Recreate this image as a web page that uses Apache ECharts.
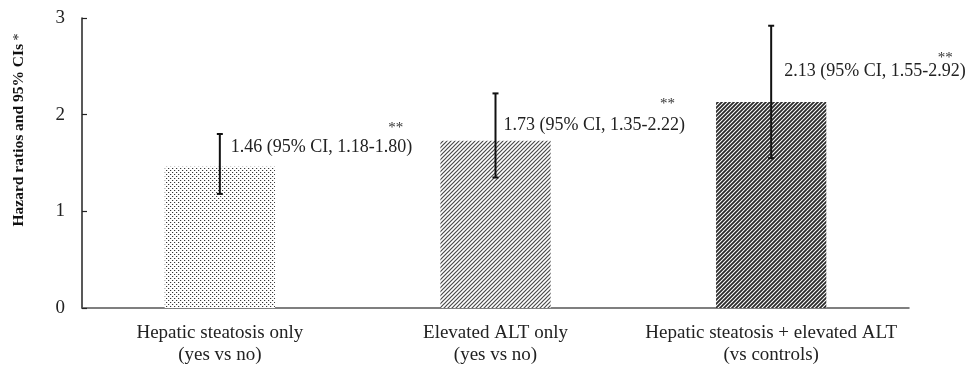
<!DOCTYPE html>
<html>
<head>
<meta charset="utf-8">
<script src="https://cdn.jsdelivr.net/npm/echarts@6/dist/echarts.min.js"></script>
<style>html,body{margin:0;padding:0;background:#fff}#c{width:972px;height:369px}</style>
</head>
<body>
<div id="c"></div>
<script>
// ---- data ----
var categories = ['Hepatic steatosis only\n(yes vs no)', 'Elevated ALT only\n(yes vs no)', 'Hepatic steatosis + elevated ALT\n(vs controls)'];
var hazardRatios = [1.46, 1.73, 2.13];
var ciLower = [1.18, 1.35, 1.55];
var ciUpper = [1.80, 2.22, 2.92];
var significance = ['**', '**', '**'];
var yTicks = [0, 1, 2, 3];
var yAxisTitle = 'Hazard ratios and 95% CIs';
var yAxisNote = '*';

// ---- styles (pixel offsets for annotations) ----
var labelDx = [11, 8, 13];
var labelDy = [-20, -16, -31];
var starDx = [165, 164, 161];
var starDy = [-19, -21, -13];

function makePattern(kind) {
  var c = document.createElement('canvas');
  var s = 4;
  c.width = s; c.height = s;
  var g = c.getContext('2d');
  g.fillStyle = '#fff';
  g.fillRect(0, 0, s, s);
  if (kind === 'dots') {
    g.fillStyle = '#383838';
    g.fillRect(0, 0, 1, 1);
    g.fillRect(2, 2, 1, 1);
    g.fillStyle = '#d8d8d8';
    g.fillRect(1, 0, 1, 1);
    g.fillRect(3, 2, 1, 1);
  } else {
    g.strokeStyle = kind === 'dark' ? '#2a2a2a' : '#4a4a4a';
    g.lineWidth = kind === 'dark' ? 1.8 : 1.2;
    g.beginPath();
    g.moveTo(-1, s + 1); g.lineTo(s + 1, -1);
    g.moveTo(-1, 1); g.lineTo(1, -1);
    g.moveTo(s - 1, s + 1); g.lineTo(s + 1, s - 1);
    g.stroke();
  }
  return { image: c, repeat: 'repeat' };
}
var patterns = [makePattern('dots'), makePattern('light'), makePattern('dark')];

var serif = '"Liberation Serif", "DejaVu Serif", serif';

var chart = echarts.init(document.getElementById('c'), null, { renderer: 'canvas' });

var barData = hazardRatios.map(function (v, i) {
  return { value: v, itemStyle: { color: patterns[i] } };
});
var errData = hazardRatios.map(function (v, i) {
  return [i, v, ciLower[i], ciUpper[i]];
});

chart.setOption({
  animation: false,
  backgroundColor: '#fff',
  grid: { left: 82, right: 63, top: 18, bottom: 61, containLabel: false },
  xAxis: {
    type: 'category',
    data: categories,
    axisLine: { lineStyle: { color: '#555', width: 1.5 } },
    axisTick: { inside: true, length: 5, lineStyle: { color: '#333', width: 1.2 } },
    axisLabel: { fontFamily: serif, fontSize: 19, color: '#222', lineHeight: 22, margin: 14, interval: 0 }
  },
  yAxis: {
    type: 'value',
    min: yTicks[0],
    max: yTicks[yTicks.length - 1],
    interval: 1,
    axisLine: { show: true, lineStyle: { color: '#222', width: 1.5 } },
    axisTick: { show: true, inside: true, length: 5, lineStyle: { color: '#222', width: 1.2 } },
    splitLine: { show: false },
    axisLabel: { fontFamily: serif, fontSize: 19, color: '#222', margin: 17 }
  },
  graphic: [{
    type: 'text',
    x: 19, y: 130,
    rotation: Math.PI / 2,
    style: {
      text: '{a|' + yAxisTitle + '} {b|' + yAxisNote + '}',
      textAlign: 'center',
      textVerticalAlign: 'middle',
      fill: '#111',
      rich: {
        a: { fontFamily: serif, fontSize: 15.5, fontWeight: 'bold', fill: '#111' },
        b: { fontFamily: serif, fontSize: 14, fill: '#111' }
      }
    }
  }],
  series: [{
    type: 'bar',
    data: barData,
    barWidth: '40%',
    itemStyle: { borderWidth: 0 },
    z: 2
  }, {
    type: 'custom',
    data: errData,
    z: 5,
    renderItem: function (params, api) {
      var i = api.value(0);
      var top = api.coord([i, api.value(3)]);
      var bot = api.coord([i, api.value(2)]);
      var barTop = api.coord([i, api.value(1)]);
      var x = top[0];
      var cap = 3;
      var st = { stroke: '#111', lineWidth: 2 };
      var lx = x + labelDx[i];
      var ly = barTop[1] + labelDy[i];
      var txt = api.value(1).toFixed(2) + ' (95% CI, ' + api.value(2).toFixed(2) + '-' + api.value(3).toFixed(2) + ')';
      return {
        type: 'group',
        children: [
          { type: 'line', shape: { x1: x, y1: top[1], x2: x, y2: bot[1] }, style: st },
          { type: 'line', shape: { x1: x - cap, y1: top[1], x2: x + cap, y2: top[1] }, style: st },
          { type: 'line', shape: { x1: x - cap, y1: bot[1], x2: x + cap, y2: bot[1] }, style: st },
          { type: 'text', x: lx, y: ly, style: { text: txt, fontFamily: serif, fontSize: 18, fill: '#222', textAlign: 'left', textVerticalAlign: 'middle' } },
          { type: 'text', x: lx + starDx[i], y: ly + starDy[i], style: { text: significance[i], fontFamily: serif, fontSize: 15, fill: '#333', textAlign: 'center', textVerticalAlign: 'middle' } }
        ]
      };
    }
  }]
});
</script>
</body>
</html>
